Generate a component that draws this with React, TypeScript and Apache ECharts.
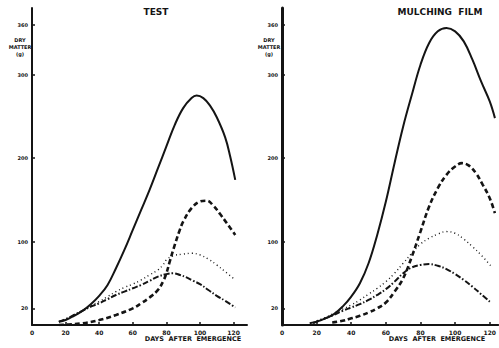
import React, { useEffect, useRef } from "react";
import * as echarts from "echarts";

// Days after emergence (x) and dry matter in g (y)
const xTicks = [0, 20, 40, 60, 80, 100, 120];
const yTicks = [20, 100, 200, 300, 360];

const testSolid = [[16, 4], [20, 6], [25, 11], [30, 17], [35, 25], [40, 35], [45, 48], [50, 68], [55, 90], [60, 114], [65, 138], [70, 162], [75, 188], [80, 214], [85, 240], [90, 260], [95, 272], [98, 275], [102, 272], [106, 263], [110, 249], [115, 225], [118, 202], [121, 174]];
const testDash = [[16, 0], [20, 0.5], [30, 2], [40, 6], [50, 12], [60, 20], [65, 26], [70, 33], [75, 42], [78, 52], [80, 62], [82, 76], [85, 96], [88, 114], [90, 124], [95, 140], [100, 148], [104, 149], [108, 143], [112, 133], [116, 122], [121, 108]];
const testDot = [[16, 4], [20, 7], [25, 12], [30, 17], [35, 23], [40, 28], [45, 34], [50, 40], [55, 45], [60, 49], [65, 54], [70, 60], [75, 66], [78, 72], [80, 78], [84, 83], [90, 85], [95, 86], [100, 84], [105, 79], [110, 72], [115, 64], [121, 54]];
const testDashDot = [[16, 4], [20, 7], [25, 12], [30, 17], [35, 22], [40, 26], [45, 31], [50, 36], [55, 40], [60, 44], [65, 48], [70, 53], [75, 58], [80, 61], [84, 62], [88, 60], [92, 57], [96, 53], [100, 49], [105, 42], [110, 35], [115, 29], [121, 21]];

const mulchSolid = [[16, 2], [20, 4], [25, 8], [30, 13], [35, 22], [40, 34], [45, 50], [50, 74], [55, 108], [60, 148], [65, 194], [70, 238], [75, 276], [80, 312], [85, 338], [90, 352], [95, 356], [100, 352], [105, 340], [110, 318], [115, 292], [120, 268], [123, 248]];
const mulchDash = [[29, 3], [35, 5], [40, 8], [45, 11], [50, 15], [55, 20], [60, 27], [65, 40], [70, 56], [75, 82], [80, 112], [85, 142], [90, 164], [95, 180], [100, 190], [104, 194], [108, 191], [112, 182], [116, 168], [120, 152], [123, 134]];
const mulchDot = [[18, 3], [20, 5], [25, 9], [30, 14], [35, 19], [40, 24], [45, 30], [50, 37], [55, 44], [60, 52], [65, 62], [70, 74], [75, 86], [80, 97], [85, 104], [90, 109], [95, 112], [100, 110], [105, 103], [110, 94], [115, 84], [121, 70]];
const mulchDashDot = [[18, 2], [20, 4], [25, 8], [30, 12], [35, 17], [40, 21], [45, 25], [50, 30], [55, 36], [60, 43], [65, 52], [70, 62], [75, 69], [80, 72], [85, 73], [90, 71], [95, 67], [100, 61], [105, 54], [110, 46], [115, 37], [120, 28]];

const INK = "#141414";
const FONT = "DejaVu Sans";

function lineSeries(data: number[][], idx: number, kind: string) {
  const styles: Record<string, any> = {
    solid: { width: 2, type: "solid" },
    dash: { width: 2.6, type: [5, 3] },
    dot: { width: 1.4, type: [1, 3] },
    dashdot: { width: 2, type: [6, 2, 1.5, 2] },
  };
  return {
    type: "line",
    xAxisIndex: idx,
    yAxisIndex: idx,
    data,
    smooth: 0.4,
    showSymbol: false,
    symbol: "none",
    lineStyle: { color: INK, cap: "butt", ...styles[kind] },
  };
}

function xAxis(idx: number, max: number) {
  return {
    type: "value",
    gridIndex: idx,
    min: 0,
    max,
    splitLine: { show: false },
    axisLine: { show: true, lineStyle: { color: INK, width: 2 } },
    axisTick: { show: true, inside: true, length: 3, customValues: xTicks, lineStyle: { color: INK, width: 1.5 } },
    axisLabel: { customValues: xTicks, color: INK, fontSize: 6, fontWeight: "bold", fontFamily: FONT, margin: 4 },
  };
}

function yAxis(idx: number, width: number) {
  return {
    type: "value",
    gridIndex: idx,
    min: 0,
    max: 380,
    splitLine: { show: false },
    axisLine: { show: true, lineStyle: { color: INK, width } },
    axisTick: { show: true, inside: true, length: 3, customValues: yTicks, lineStyle: { color: INK, width: 1.5 } },
    axisLabel: { customValues: yTicks, color: INK, fontSize: 5, fontWeight: "bold", fontFamily: FONT, margin: 4 },
  };
}

function txt(x: number, y: number, text: string, size: number, align = "left", lh = 0) {
  return {
    type: "text",
    x,
    y,
    style: {
      text,
      fill: INK,
      font: `900 ${size}px "${FONT}"`,
      textAlign: align,
      textVerticalAlign: "top",
      lineHeight: lh || size + 1,
    },
  };
}

export default function App() {
  const ref = useRef<HTMLDivElement>(null);
  useEffect(() => {
    if (!ref.current) return;
    const chart = echarts.init(ref.current, null, { renderer: "svg" });
    chart.setOption({
      animation: false,
      backgroundColor: "#ffffff",
      grid: [
        { left: 32, top: 8, width: 215, height: 317 },
        { left: 282, top: 8, width: 217, height: 317 },
      ],
      xAxis: [xAxis(0, 128), xAxis(1, 125)],
      yAxis: [yAxis(0, 2), yAxis(1, 3)],
      series: [
        lineSeries(testSolid, 0, "solid"),
        lineSeries(testDash, 0, "dash"),
        lineSeries(testDot, 0, "dot"),
        lineSeries(testDashDot, 0, "dashdot"),
        lineSeries(mulchSolid, 1, "solid"),
        lineSeries(mulchDash, 1, "dash"),
        lineSeries(mulchDot, 1, "dot"),
        lineSeries(mulchDashDot, 1, "dashdot"),
      ],
      graphic: [
        txt(156, 7, "TEST", 9, "center"),
        txt(440, 7, "MULCHING  FILM", 9, "center"),
        txt(20, 36, "DRY\nMATTER\n(g)", 5, "center", 7),
        txt(269, 36, "DRY\nMATTER\n(g)", 5, "center", 7),
        txt(193, 335, "DAYS  AFTER  EMERGENCE", 6.5, "center"),
        txt(437, 335, "DAYS  AFTER  EMERGENCE", 6.5, "center"),
      ],
    });
    return () => chart.dispose();
  }, []);
  return (
    <div
      ref={ref}
      style={{ position: "fixed", left: 0, top: 0, width: 499, height: 348, background: "#fff" }}
    />
  );
}
